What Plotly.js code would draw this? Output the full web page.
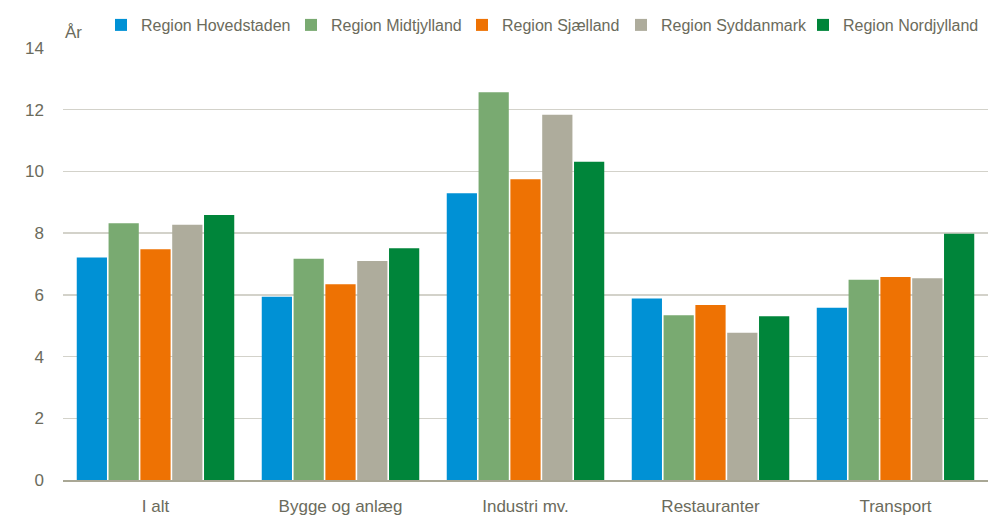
<!DOCTYPE html>
<html>
<head>
<meta charset="utf-8">
<script src="https://cdn.plot.ly/plotly-3.0.1.min.js"></script>
<style>html,body{margin:0;padding:0;background:#fff;}#chart{width:988px;height:515px;}</style>
</head>
<body>
<div id="chart"></div>
<script>
var categories = ["I alt", "Bygge og anlæg", "Industri mv.", "Restauranter", "Transport"];
var seriesNames = ["Region Hovedstaden", "Region Midtjylland", "Region Sjælland", "Region Syddanmark", "Region Nordjylland"];
var hovedstaden = [7.21, 5.94, 9.29, 5.88, 5.58];
var midtjylland = [8.32, 7.17, 12.57, 5.34, 6.49];
var sjaelland   = [7.48, 6.34, 9.75, 5.67, 6.58];
var syddanmark  = [8.27, 7.10, 11.84, 4.77, 6.54];
var nordjylland = [8.59, 7.51, 10.31, 5.31, 7.98];
var yTicks = [0, 2, 4, 6, 8, 10, 12, 14];
var yUnit = "År";

var seriesValues = [hovedstaden, midtjylland, sjaelland, syddanmark, nordjylland];
var colors = ["#0091d5", "#79aa71", "#ee7203", "#aeac9c", "#00853a"];
var legendWidths = [145, 126, 114, 137, 140];

var traces = seriesNames.map(function (name, i) {
  return {
    type: "bar",
    name: name,
    x: categories,
    y: seriesValues[i],
    marker: { color: colors[i], line: { color: "#ffffff", width: 0 } },
    legendwidth: legendWidths[i],
    hoverinfo: "x+y+name"
  };
});

var textColor = "#6b6b5c";
var layout = {
  width: 988,
  height: 515,
  margin: { l: 63, r: 0, t: 48, b: 35 },
  paper_bgcolor: "#ffffff",
  plot_bgcolor: "#ffffff",
  font: { family: "Liberation Sans, Arial, sans-serif", size: 17, color: textColor },
  barmode: "group",
  bargap: 0.14,
  bargroupgap: 0.05,
  showlegend: true,
  legend: {
    orientation: "h",
    x: 112 / 988,
    xanchor: "left",
    y: 1 - 8 / 515,
    yanchor: "top",
    yref: "container",
    font: { size: 16, color: textColor },
    bgcolor: "rgba(0,0,0,0)",
    itemwidth: 30,
    traceorder: "normal"
  },
  xaxis: {
    type: "category",
    showgrid: false,
    showline: true,
    linecolor: "#a9a795",
    linewidth: 1.5,
    ticks: "",
    tickfont: { size: 17, color: textColor },
    ticklabelstandoff: 10,
    fixedrange: true
  },
  yaxis: {
    range: [0, 14],
    tickvals: yTicks,
    ticktext: yTicks.map(String),
    showgrid: true,
    gridcolor: "#d3d2ca",
    gridwidth: 1.5,
    zeroline: false,
    showline: false,
    ticks: "",
    tickfont: { size: 17, color: textColor },
    ticklabelstandoff: 18,
    fixedrange: true
  },
  annotations: [{
    text: yUnit,
    xref: "paper", yref: "paper",
    x: 0, y: 1,
    xanchor: "left", yanchor: "bottom",
    xshift: 0, yshift: 4,
    showarrow: false,
    font: { size: 17, color: textColor }
  }]
};

Plotly.newPlot("chart", traces, layout, { displayModeBar: false, staticPlot: true });
</script>
</body>
</html>
